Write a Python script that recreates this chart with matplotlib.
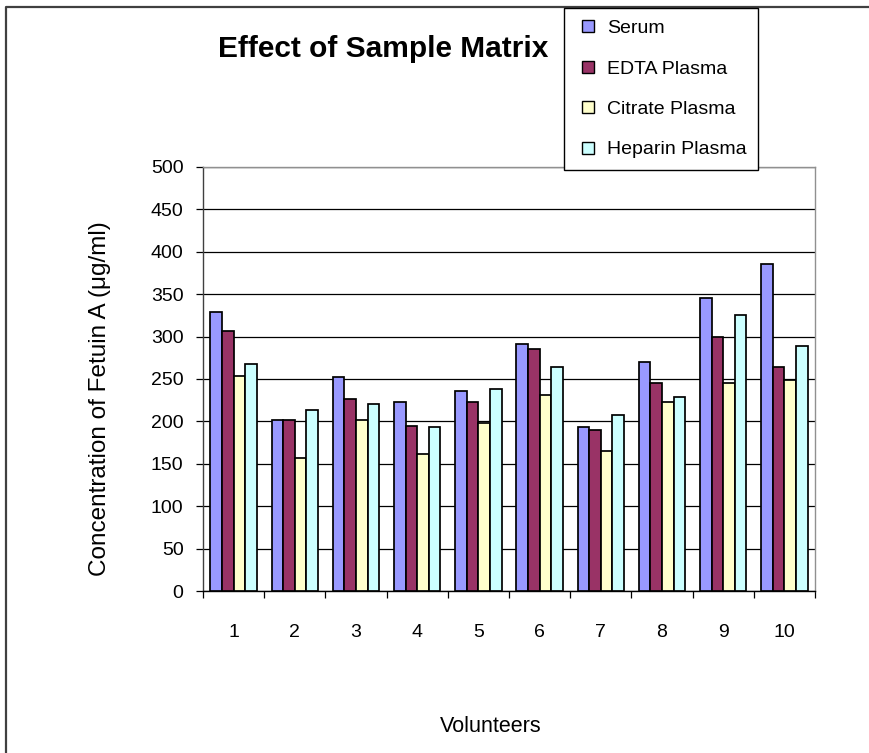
import matplotlib
matplotlib.use("Agg")
import matplotlib.pyplot as plt
from matplotlib.lines import Line2D
import numpy as np

plt.rcParams['font.family'] = ['Liberation Sans', 'DejaVu Sans']

volunteers = ['1', '2', '3', '4', '5', '6', '7', '8', '9', '10']
serum = [329, 202, 252, 223, 236, 291, 193, 270, 346, 386]
edta = [307, 202, 226, 195, 223, 285, 190, 245, 299, 264]
citrate = [254, 157, 202, 162, 198, 231, 165, 223, 245, 249]
heparin = [268, 214, 221, 193, 238, 264, 207, 229, 325, 289]

series = [
    ('Serum', serum, '#9999FF'),
    ('EDTA Plasma', edta, '#993366'),
    ('Citrate Plasma', citrate, '#FFFFCC'),
    ('Heparin Plasma', heparin, '#CCFFFF'),
]

W, H = 869, 753
fig = plt.figure(figsize=(W / 100, H / 100), dpi=100)
ax = fig.add_axes([203 / W, 1 - 591 / H, (815 - 203) / W, (591 - 167) / H])

x = np.arange(1, len(volunteers) + 1)
bw = 0.19
for i, (name, vals, col) in enumerate(series):
    ax.bar(x + (i - 1.5) * bw, vals, bw, color=col, edgecolor='black',
           linewidth=1.25, zorder=3, label=name)

ax.set_xlim(0.5, 10.5)
ax.set_ylim(0, 500)
ax.set_yticks(range(0, 501, 50))
ax.yaxis.grid(True, color='black', linewidth=0.9, zorder=0)
ax.tick_params(axis='y', length=5, width=0.9, pad=9, labelsize=14)

# category boundaries as ticks, labels at centres
ax.set_xticks(np.arange(0.5, 11, 1))
ax.set_xticklabels([])
ax.set_xticks(x, minor=True)
ax.set_xticklabels(volunteers, minor=True)
ax.tick_params(axis='x', which='major', length=5, width=0.9)
ax.tick_params(axis='x', which='minor', length=0, pad=24, labelsize=14)

ax.spines['left'].set_color('#404040')
ax.spines['bottom'].set_color('black')
ax.spines['top'].set_color('#909090')
ax.spines['right'].set_color('#909090')
for s in ax.spines.values():
    s.set_linewidth(1.0)

fig.text(100 / W, 1 - 399 / H, 'Concentration of Fetuin A (μg/ml)', fontsize=17.5,
         rotation=90, ha='center', va='center')
fig.text(491 / W, 1 - 727 / H, 'Volunteers', fontsize=15.5, ha='center', va='center')
fig.text(383 / W, 1 - 49 / H, 'Effect of Sample Matrix', fontsize=21.5,
         fontweight='bold', ha='center', va='center')

# outer chart border (left and top)
fig.add_artist(Line2D([6 / W, 6 / W, 1], [0, 1 - 7 / H, 1 - 7 / H],
                      transform=fig.transFigure, color='#404040', linewidth=1.6))

handles = [Line2D([], [], marker='s', markersize=8.5, linestyle='none',
                  markerfacecolor=c, markeredgecolor='black', markeredgewidth=1.0)
           for _, _, c in series]
leg = fig.legend(handles, [n for n, _, _ in series], loc='upper left',
                 bbox_to_anchor=(564 / W, 1 - 8 / H), borderaxespad=0,
                 fontsize=14, fancybox=False, edgecolor='black',
                 handlelength=1.27, handletextpad=0.34,
                 labelspacing=1.17, borderpad=0.6, framealpha=1)
leg.get_frame().set_linewidth(1.0)

fig.savefig('out.png', dpi=100)
